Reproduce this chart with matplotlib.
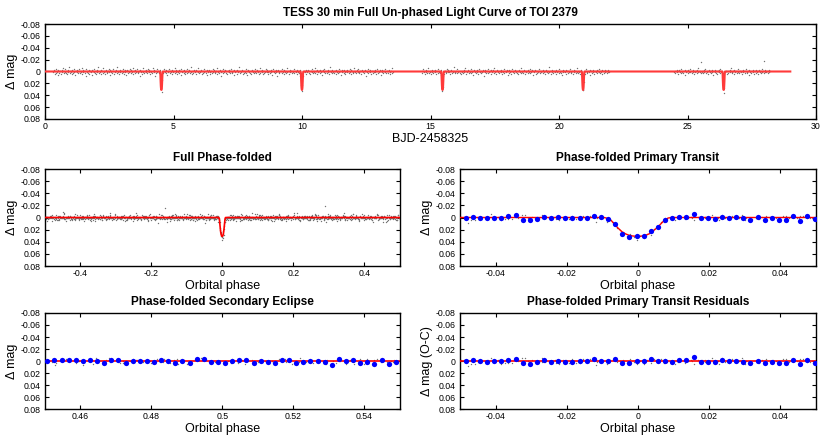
import numpy as np
import matplotlib
matplotlib.use("Agg")
import matplotlib.pyplot as plt

plt.rcParams['font.family'] = ['Liberation Sans', 'DejaVu Sans']

# ---------------- data ----------------
period = 5.4694          # days
t0 = 4.53                # BJD-2458325 of first transit
cadence = 0.0208333      # 30 min

# segment start times (BJD-2458325)
seg_starts = [0.31, 14.65, 24.49]

# residual scatter per 30-min point (units of resid_unit mag)
resid_unit = 0.0014
seg1_resid = [
 1,-2,0,3,-1,2,-3,1,0,-2,4,-1,2,0,-1,3,-2,1,-4,0,2,-1,1,-3,2,
 0,-1,3,1,-2,-5,2,0,1,-1,3,-2,0,2,-3,1,4,-1,0,-2,1,2,-1,-3,0,
 2,-1,1,0,-4,3,1,-2,0,2,-1,5,-3,1,0,-1,2,-2,3,0,-1,1,-2,4,-1,
 0,1,-3,2,-1,0,3,-2,1,-1,-6,2,0,1,-2,3,-1,0,2,-4,1,-1,3,0,-2,
 1,2,-1,0,-3,1,4,-2,0,1,-1,2,-3,0,3,-1,1,-2,0,2,-5,1,0,-1,3,
 -2,1,0,2,-1,-3,1,3,0,-2,1,-1,4,0,-2,2,-1,1,-3,0,2,-2,1,0,-4,
 3,0,-1,2,-2,1,0,-3,2,1,-1,0,5,-2,1,-1,0,3,-4,1,2,-1,0,-2,1,
 -1,2,0,-3,1,-2,3,0,1,-1,2,-4,0,1,-2,6,-1,0,2,-3,1,0,-1,2,-2,
 0,1,-2,3,-1,0,2,-1,-3,1,0,2,-2,4,-1,1,0,-3,2,-1,1,0,-2,3,1,
 -1,0,2,-4,1,-2,0,3,-1,1,-2,2,0,-1,4,-3,1,0,-1,2,-2,1,3,-1,0,
 2,-3,1,0,-1,-2,2,1,-5,0,3,-1,2,-2,0,1,-1,3,-2,0,1,-4,2,0,-1,
 1,0,-2,3,-1,2,0,-3,1,-1,2,0,4,-2,1,-1,0,-2,3,1,-1,0,2,-3,1,
 0,-2,1,2,-1,0,-4,3,1,-1,0,2,-2,1,5,-1,0,-3,2,-1,1,0,-2,2,-1,
 3,-1,0,1,-2,2,-1,-3,0,1,2,-1,0,-2,4,1,-1,0,3,-2,-1,1,0,-5,2,
 -1,1,0,-2,3,-1,2,0,-1,1,-3,2,0,4,-1,-2,1,0,2,-1,3,-2,0,1,-1,
 2,0,-3,1,-1,2,-2,0,1,3,-1,-4,2,0,-1,1,-2,3,0,-1,2,1,-3,0,1,
 -2,1,3,-1,0,2,-1,-2,1,0,4,-3,1,-1,0,2,-2,1,6,-1,0,-2,1,2,-1,
 0,-1,2,-3,1,0,-2,3,1,-1,0,2,-4,1,-1,0,3,-2,1,0,-1,2,-1,0,1,
 -3,2,0,-1,1,3,-2,0,1,-1,2,-2,5,0,-1,1,-3,2,0,-1,1,0,-2,3,-1,
 1,-2,0,2,-1,3,-1,0,-3,1,2,-1,0,1,-4,2,-1,0,3,-2,1,-1,0,2,-2,
 0,1,-1,4,-2,0,1,-3,2,-1,0,2,-1,1,-2,0,3,-1,-5,1,0,2,-2,1,-1,
 2,0,-1,-2,3,1,-1,0,2,-3,1,-1,0,4,-2,1,0,-1,2,-2,1,3,-1,0,-2,
 1,-1,2,0,-3,1,-2,3,0,-1,1,2,-4,0,1,-1,2,-2,0,1,-3,2,1,-1,0,
 -1,3,0,-2,1,-1,2,0,-2,5,-1,1,0,-3,2,-1,0,1,-2,3,-1,0,2,-1,1,
 0,-2,1,-1,3,-3,0,2,-1,1,-2,0,4,-1,1,-2,0,2,-1,0,-3,1,2,-1,0,
 2,-1,0,-2,1,3,-1,0,-4,2,1]
seg2_resid = [
 -1,2,0,-3,1,-1,3,0,-2,1,2,-1,0,-4,2,1,-1,0,3,-2,1,-1,2,0,-1,
 1,-2,3,0,-1,2,-3,1,0,-1,2,-2,4,0,1,-1,-2,3,0,-1,1,2,-3,0,1,
 -2,0,1,3,-1,0,-2,2,-1,1,0,-5,2,1,-1,0,2,-3,1,0,-1,2,-1,3,0,
 1,-1,0,2,-2,1,-4,0,3,-1,1,0,-2,2,-1,0,1,-3,2,1,-1,0,4,-2,1,
 0,-1,2,-2,1,0,3,-1,-3,1,0,2,-1,1,-2,0,5,-1,1,-2,0,2,-1,0,-3,
 2,1,-1,0,-2,3,-1,1,0,-2,2,-4,1,0,-1,3,-2,1,0,-1,2,0,-1,1,-2,
 3,-1,0,1,-3,2,0,-1,1,-2,0,4,-1,2,-2,0,1,-1,3,-3,1,0,-1,2,0,
 -2,1,-1,0,2,-1,3,-2,0,1,-4,2,1,-1,0,2,-1,-2,3,0,1,-1,0,2,-2,
 1,0,-3,2,-1,1,0,-2,4,-1,0,1,-2,3,-1,0,2,-1,1,-3,0,2,-1,1,0,
 -1,2,-2,0,1,-1,3,0,-2,1,-1,0,2,-5,1,0,-1,3,-2,1,0,2,-1,-1,1,
 0,-2,3,1,-1,0,2,-3,1,-1,0,2,-1,4,-2,1,0,-1,1,-2,3,0,-1,2,-1,
 1,0,-1,-3,2,1,-1,0,3,-2,1,-1,0,2,-1,1,-4,2,0,-1,1,3,-2,0,1,
 -1,2,0,-2,1,-1,3,0,-3,1,2,-1,0,1,-2,4,-1,0,2,-1,-2,1,0,3,-1,
 0,1,-2,2,-1,0,-3,1,2,-1,0,1,-2,3,-1,0,2,-2,1,-1,0,2,-1,1,-2,
 0,1]
seg3_resid = [
 1,-1,2,0,-2,1,3,-1,0,-2,1,-1,2,-3,0,1,-1,2,0,-2,4,-1,1,0,-1,
 2,-2,0,1,-3,1,0,2,-1,1,-2,0,3,-1,1,-1,0,-2,2,1,-4,0,1,-1,2,
 -11,1,-1,0,2,-2,1,0,-3,2,-1,1,0,3,-1,-2,1,0,-1,2,-2,1,4,-1,0,
 1,-2,0,2,-1,3,-1,0,-2,1,-3,2,0,-1,1,-1,0,4,2,-2,1,0,-1,3,-1,
 0,2,-1,1,-2,0,-4,1,2,-1,0,3,-2,1,-1,0,2,-1,1,-3,0,2,-1,0,1,
 -1,3,0,-2,1,-1,2,0,-1,-3,1,2,-1,0,4,-2,1,-1,0,2,-1,1,-2,0,3,
 -1,0,2,-2,1,-1,3,0,-2,1,0,-1,2,-3,1,0,-1,2,-13,1,-2,0,1,-1,2,
 0,-2,1,-1]

# transit model (phase, delta mag)
model_phase = [-0.0095, -0.0085, -0.0075, -0.0065, -0.0055, -0.0045, -0.0035, -0.0025,
               -0.0015, -0.0005, 0.0005, 0.0015, 0.0025, 0.0035, 0.0045, 0.0055,
               0.0065, 0.0075, 0.0085, 0.0095]
model_dmag = [0.0, 0.0015, 0.005, 0.012, 0.018, 0.0235, 0.027, 0.0293,
              0.0305, 0.031, 0.031, 0.0302, 0.0285, 0.026, 0.021, 0.016,
              0.010, 0.004, 0.0008, 0.0]
model_tmax = 29.0

# binned points (blue) of the primary transit, 0.002 phase bins
prim_bin_start = -0.0484
prim_bin_dmag = [0.0, -0.001, 0.0005, 0.0016, 0.0, 0.0005, -0.0022, -0.0033, 0.0038, 0.0044,
                 0.0022, -0.0011, 0.0016, -0.0005, 0.0011, 0.0011, 0.0005, 0.0, -0.0027, -0.0005,
                 0.0022, 0.0099, 0.0275, 0.0325, 0.0313, 0.0297, 0.022, 0.0154, 0.0033, 0.0016,
                 -0.0016, -0.0016, -0.006, 0.0011, 0.0011, 0.0022, -0.0011, 0.0005, -0.0005, 0.0011,
                 0.0038, -0.0005, 0.0033, 0.0011, 0.0033, 0.0038, -0.0022, 0.005, -0.0022, 0.0027]

# binned points of the secondary eclipse region
sec_bin_start = 0.4508
sec_bin_dmag = [0.0, -0.0017, -0.0022, -0.001, -0.0017, 0.0005, -0.001, -0.0005, 0.0039, -0.001,
                -0.001, 0.0033, -0.0005, -0.0005, -0.0005, 0.0022, -0.0017, 0.0, 0.0028, 0.0005,
                0.0033, -0.0033, -0.0033, 0.0017, 0.0022, 0.0028, 0.0, -0.001, -0.001, 0.0033,
                0.0, 0.0017, 0.0039, -0.0017, -0.0022, 0.0039, 0.0022, 0.0, 0.0, 0.0022,
                0.0061, -0.0033, 0.0005, -0.0017, 0.0033, 0.0011, 0.0055, -0.0017, 0.0055, 0.0017]
bin_width = 0.002

# ---------------- derived ----------------
model_phase = np.array(model_phase)
model_dmag = np.array(model_dmag)

def model_at_phase(ph):
    return np.interp(ph, model_phase, model_dmag, left=0.0, right=0.0)

times, resid = [], []
for start, r in zip(seg_starts, [seg1_resid, seg2_resid, seg3_resid]):
    times.append(start + cadence * np.arange(len(r)))
    resid.append(np.array(r) * resid_unit)
times = np.concatenate(times)
resid = np.concatenate(resid)
phase = ((times - t0) / period + 0.5) % 1.0 - 0.5
phase01 = ((times - t0) / period) % 1.0
obs = resid + model_at_phase(phase)

# model line for unphased panel
n_tr = int(np.floor((model_tmax - t0) / period)) + 1
mx = [0.0]
my = [0.0]
for k in range(n_tr):
    tc = t0 + k * period
    mx.extend(tc + model_phase * period)
    my.extend(model_dmag)
mx.append(model_tmax)
my.append(0.0)

prim_bin_phase = prim_bin_start + bin_width * np.arange(len(prim_bin_dmag))
prim_bin_dmag = np.array(prim_bin_dmag)
sec_bin_phase = sec_bin_start + bin_width * np.arange(len(sec_bin_dmag))
prim_bin_resid = prim_bin_dmag - model_at_phase(prim_bin_phase)

# ---------------- figure ----------------
W, H = 830, 436
fig = plt.figure(figsize=(W / 100, H / 100), dpi=100)

def ax_px(l, t, r, b):
    return fig.add_axes([l / W, 1 - b / H, (r - l) / W, (b - t) / H])

yt = np.round(np.arange(-0.08, 0.0801, 0.02), 2)
ylabels = ['%g' % v if abs(v) > 1e-9 else '0' for v in yt]

def style(ax, xlim, xticks, xlabels, title, ylabel='\u0394 mag', xlabel='Orbital phase'):
    ax.set_xlim(*xlim)
    ax.set_ylim(0.08, -0.08)
    ax.set_yticks(yt)
    ax.set_yticklabels(ylabels)
    ax.set_xticks(xticks)
    ax.set_xticklabels(xlabels)
    ax.tick_params(direction='in', top=True, right=True, length=3, width=0.8,
                   labelsize=6.3, colors='black')
    ax.tick_params(axis='y', pad=3)
    ax.tick_params(axis='x', pad=2.2)
    for s in ax.spines.values():
        s.set_linewidth(1.0)
    ax.set_title(title, fontsize=8.5, fontweight='bold', pad=5.5)
    ax.set_ylabel(ylabel, fontsize=9, labelpad=2)
    ax.set_xlabel(xlabel, fontsize=9, labelpad=1.5)

dot_kw = dict(ls='none', marker='o', ms=1.0, mew=0, color='0.45')
blue_kw = dict(ls='none', marker='o', ms=3.8, mew=0, color='#0000ff', zorder=6)

# top panel
ax1 = ax_px(45, 24, 816, 119)
ax1.plot(times, obs, **dot_kw)
ax1.plot(mx, my, color='#ff3a3a', lw=1.5, zorder=3)
xt1 = [0, 5, 10, 15, 20, 25, 30]
style(ax1, (0, 30), xt1, [str(v) for v in xt1],
      'TESS 30 min Full Un-phased Light Curve of TOI 2379', xlabel='BJD-2458325')

# full phase-folded
ax2 = ax_px(44.5, 169, 400, 266)
ax2.plot(phase, obs, **dot_kw)
ax2.plot(np.concatenate([[-0.5], model_phase, [0.5]]),
         np.concatenate([[0.0], model_dmag, [0.0]]), color='red', lw=1.2, zorder=3)
xt2 = [-0.4, -0.2, 0, 0.2, 0.4]
style(ax2, (-0.5, 0.5), xt2, ['%g' % v for v in xt2], 'Full Phase-folded')

# primary transit
ax3 = ax_px(460, 169, 816, 266)
m3 = np.abs(phase) < 0.06
ax3.plot(phase[m3], obs[m3], **dot_kw)
ax3.plot(prim_bin_phase, prim_bin_dmag, **blue_kw)
ax3.plot(np.concatenate([[-0.05], model_phase, [0.05]]),
         np.concatenate([[0.0], model_dmag, [0.0]]), color='red', lw=1.0, zorder=5)
xt3 = [-0.04, -0.02, 0, 0.02, 0.04]
style(ax3, (-0.05, 0.05), xt3, ['%g' % v for v in xt3], 'Phase-folded Primary Transit')

# secondary eclipse
ax4 = ax_px(44.5, 313, 400, 409)
m4 = (phase01 > 0.44) & (phase01 < 0.56)
ax4.plot(phase01[m4], obs[m4], **dot_kw)
ax4.plot(sec_bin_phase, sec_bin_dmag, **blue_kw)
ax4.plot([0.45, 0.55], [0.0, 0.0], color='red', lw=1.2, zorder=5)
xt4 = [0.46, 0.48, 0.5, 0.52, 0.54]
style(ax4, (0.45, 0.55), xt4, ['%g' % v for v in xt4], 'Phase-folded Secondary Eclipse')

# residuals
ax5 = ax_px(460, 313, 816, 409)
ax5.plot(phase[m3], resid[m3], **dot_kw)
ax5.plot(prim_bin_phase, prim_bin_resid, **blue_kw)
ax5.plot([-0.05, 0.05], [0.0, 0.0], color='red', lw=1.2, zorder=5)
style(ax5, (-0.05, 0.05), xt3, ['%g' % v for v in xt3],
      'Phase-folded Primary Transit Residuals', ylabel='\u0394 mag (O-C)')

fig.savefig('out.png', dpi=100)
